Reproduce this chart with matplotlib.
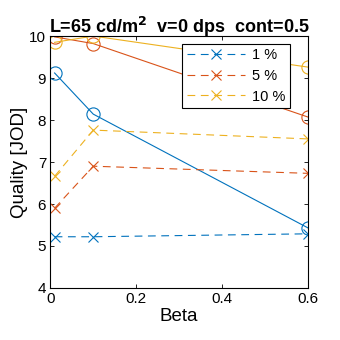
import matplotlib.pyplot as plt

plt.rcParams['font.family'] = ['Liberation Sans', 'DejaVu Sans']

beta = [0.01, 0.1, 0.6]
labels = ['1 %', '5 %', '10 %']
colors = ['#0072BD', '#D95319', '#EDB120']

# solid lines with circles
quality_o = [
    [9.12, 8.14, 5.43],
    [9.98, 9.82, 8.07],
    [9.85, 10.0, 9.26],
]
# dashed lines with crosses
quality_x = [
    [5.22, 5.22, 5.29],
    [5.90, 6.90, 6.73],
    [6.66, 7.76, 7.55],
]

fig = plt.figure(figsize=(3.4, 3.4), dpi=100)
ax = fig.add_axes([0.148, 0.153, 0.758, 0.741])

for q, c in zip(quality_o, colors):
    ax.plot(beta, q, '-o', color=c, lw=0.8, ms=9.5, mfc='none', mew=0.8)
for q, c, lab in zip(quality_x, colors, labels):
    ax.plot(beta, q, '--x', color=c, lw=0.8, ms=7.5, mew=0.8, dashes=(7, 5), label=lab)

ax.set_xlim(0, 0.6)
ax.set_ylim(4, 10)
ax.set_xticks([0, 0.2, 0.4, 0.6])
ax.set_xticklabels(['0', '0.2', '0.4', '0.6'])
ax.set_yticks(range(4, 11))
ax.tick_params(direction='in', top=True, right=True, labelsize=11, length=3, width=0.6, pad=3)
for s in ax.spines.values():
    s.set_linewidth(0.8)
ax.set_xlabel('Beta', fontsize=13.5, labelpad=1)
ax.set_ylabel('Quality [JOD]', fontsize=13.5, labelpad=1)
ax.set_title(r'L=65 cd/m$^\mathbf{2}$  v=0 dps  cont=0.5', fontsize=13, fontweight='bold', pad=2)

leg = ax.legend(loc='upper right', bbox_to_anchor=(0.93, 0.968), fontsize=10.5, handlelength=4.0,
                fancybox=False, framealpha=1, edgecolor='k', borderpad=0.3, labelspacing=0.45,
                handletextpad=0.5, borderaxespad=0)
leg.get_frame().set_linewidth(0.8)

fig.savefig('out.png', dpi=100)
